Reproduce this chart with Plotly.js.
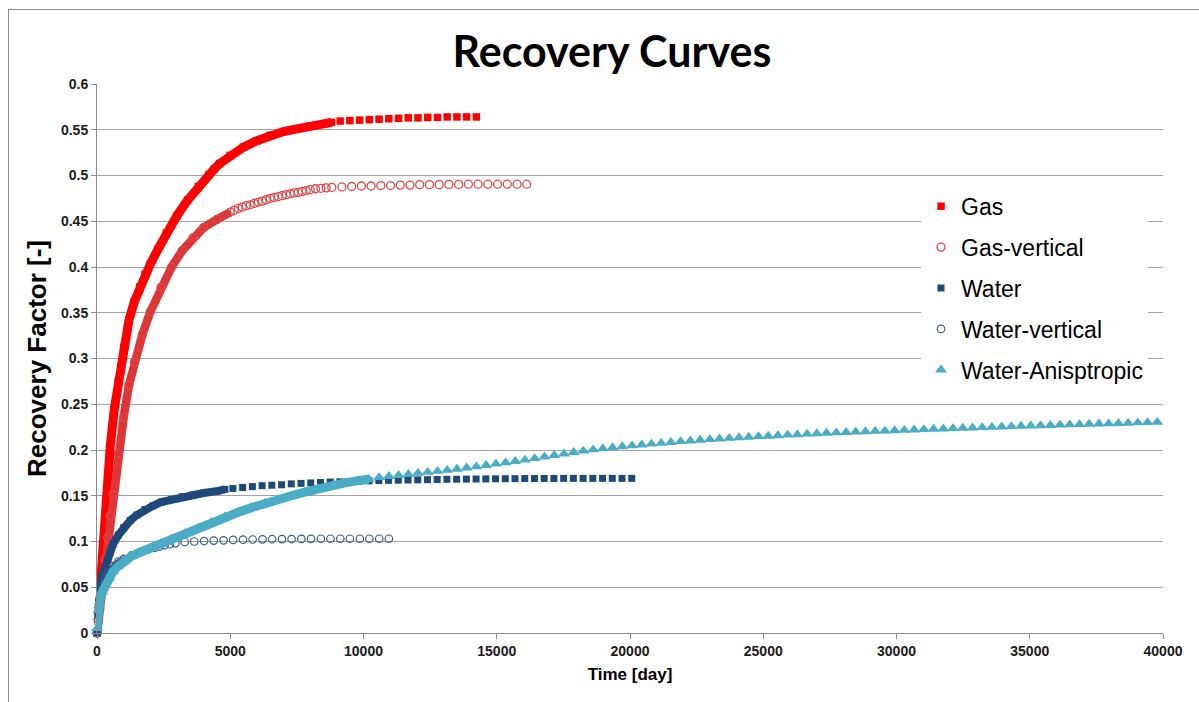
<!DOCTYPE html>
<html>
<head>
<meta charset="utf-8">
<script src="https://cdn.plot.ly/plotly-3.0.1.min.js"></script>
<style>
html,body{margin:0;padding:0;background:#fff;}
#wrap{position:relative;width:1199px;height:702px;overflow:hidden;}
#chart{width:1199px;height:702px;}
#frame{position:absolute;left:8px;top:9px;width:1400px;height:900px;border:1px solid #8c8c8c;pointer-events:none;}
</style>
</head>
<body>
<div id="wrap"><div id="chart"></div><div id="frame"></div></div>
<script>
// ---- Data ----
const gasDay = [0,50,100,200,300,400,500,650,800,1000,1200,1400,1600,1800,2000,2300,2600,3000,3400,3800,4200,4400,4600,5000,5500,6000,6500,7000,7500,8000,8500,8800,
  9125,9490,9855,10220,10585,10950,11315,11680,12045,12410,12775,13140,13505,13870,14235];
const gasRF = [0,0.022,0.04,0.085,0.13,0.17,0.205,0.245,0.275,0.312,0.342,0.362,0.378,0.392,0.403,0.42,0.437,0.456,0.473,0.488,0.501,0.507,0.513,0.522,0.531,0.538,0.544,0.548,0.551,0.554,0.556,0.558,
  0.5595,0.560,0.5605,0.561,0.5615,0.562,0.5625,0.563,0.563,0.5635,0.5635,0.564,0.564,0.564,0.564];

const gasVertDay = [0,50,100,200,300,400,500,600,800,1000,1200,1400,1700,2000,2400,2800,3200,3600,4000,4500,5000,
  5150,5300,5450,5600,5750,5900,6050,6200,6350,6500,6650,6800,6950,7100,7250,7400,7550,7700,7850,8000,8200,8400,8600,8810,
  9190,9555,9920,10285,10650,11015,11380,11745,12110,12475,12840,13205,13570,13935,14300,14665,15030,15395,15760,16125];
const gasVertRF = [0,0.012,0.026,0.053,0.08,0.104,0.128,0.152,0.196,0.236,0.271,0.296,0.326,0.351,0.378,0.400,0.418,0.432,0.443,0.452,0.460,
  0.462,0.464,0.4655,0.467,0.468,0.4695,0.471,0.472,0.4735,0.475,0.476,0.477,0.478,0.479,0.48,0.481,0.4815,0.4825,0.4835,0.4845,0.4855,0.486,0.4865,0.487,
  0.4875,0.488,0.4885,0.4885,0.489,0.489,0.4895,0.4895,0.49,0.49,0.49,0.4903,0.4903,0.4905,0.4905,0.4905,0.4905,0.4905,0.4905,0.4905];

const waterDay = [0,30,60,100,200,300,400,500,600,800,1000,1250,1500,1800,2100,2400,2800,3200,3600,4000,4500,4800,
  5100,5465,5830,6195,6560,6925,7290,7655,8020,8385,8750,9115,9480,9845,10210,10575,10940,11305,11670,12035,12400,12765,13130,13495,13860,14225,14590,14955,15320,15685,16050,16415,16780,17145,17510,17875,18240,18605,18970,19335,19700,20065];
const waterRF = [0,0.02,0.034,0.048,0.062,0.072,0.08,0.089,0.097,0.107,0.115,0.123,0.129,0.135,0.139,0.143,0.146,0.149,0.151,0.153,0.155,0.157,
  0.158,0.159,0.160,0.161,0.1615,0.162,0.163,0.1635,0.164,0.1645,0.165,0.1652,0.1656,0.166,0.1663,0.1666,0.1668,0.167,0.1672,0.1674,0.1676,0.1678,0.168,0.1681,0.1682,0.1683,0.1684,0.1685,0.1686,0.1687,0.1688,0.1688,0.1689,0.1689,0.169,0.169,0.169,0.169,0.169,0.169,0.169,0.169];

const waterVertDay = [0,30,60,100,200,300,400,600,800,1000,1300,1600,1900,
  2160,2350,2540,2730,2940,3290,3650,4020,4380,4750,5110,5480,5840,6210,6570,6940,7300,7670,8030,8400,8760,9130,9490,9860,10220,10590,10950];
const waterVertRF = [0,0.015,0.028,0.038,0.051,0.06,0.066,0.073,0.078,0.081,0.085,0.088,0.091,
  0.093,0.0945,0.096,0.097,0.098,0.0995,0.1,0.1005,0.101,0.1013,0.1017,0.102,0.1022,0.1024,0.1025,0.1026,0.1027,0.1028,0.1029,0.103,0.103,0.103,0.103,0.103,0.103,0.103,0.103];

const anisoDay = [0,50,100,200,300,450,600,800,1000,1300,1600,2000,2400,2800,3300,3800,4300,4800,5300,5800,6300,6800,7300,7800,8300,8800,9300,9800,10200,
  10585,10950,11315,11680,12045,12410,12775,13140,13505,13870,14235,14600,14965,15330,15695,16060,16425,16790,17155,17520,17885,18250,18615,18980,19345,19710,
  20075,20440,20805,21170,21535,21900,22265,22630,22995,23360,23725,24090,24455,24820,25185,25550,25915,26280,26645,27010,27375,27740,28105,28470,28835,
  29200,29565,29930,30295,30660,31025,31390,31755,32120,32485,32850,33215,33580,33945,34310,34675,35040,35405,35770,36135,36500,36865,37230,37595,37960,
  38325,38690,39055,39420,39785];
const anisoRF = [0.005,0.025,0.034,0.045,0.052,0.06,0.067,0.073,0.078,0.084,0.088,0.093,0.098,0.103,0.109,0.115,0.121,0.127,0.132,0.137,0.142,0.146,0.15,0.154,0.158,0.161,0.164,0.1665,0.168,
  0.1700,0.1712,0.1724,0.1735,0.1746,0.1758,0.1769,0.1780,0.1792,0.1805,0.1818,0.1833,0.1848,0.1862,0.1877,0.1892,0.1908,0.1925,0.1942,0.1958,0.1975,0.1990,0.2003,0.2015,0.2026,0.2037,
  0.2047,0.2057,0.2066,0.2075,0.2084,0.2093,0.2101,0.2108,0.2115,0.2122,0.2129,0.2136,0.2142,0.2148,0.2153,0.2158,0.2164,0.2169,0.2175,0.2180,0.2185,0.2189,0.2193,0.2197,0.2201,
  0.2205,0.2209,0.2213,0.2217,0.2221,0.2225,0.2229,0.2232,0.2236,0.2240,0.2243,0.2247,0.2250,0.2254,0.2257,0.2261,0.2264,0.2267,0.2270,0.2274,0.2277,0.2280,0.2283,0.2286,0.2289,
  0.2292,0.2295,0.2298,0.2301,0.2304];

const seriesNames = ['Gas','Gas-vertical','Water','Water-vertical','Water-Anisptropic'];
const xTicks = [0,5000,10000,15000,20000,25000,30000,35000,40000];
const yTicks = [0,0.05,0.1,0.15,0.2,0.25,0.3,0.35,0.4,0.45,0.5,0.55,0.6];

// ---- Styles ----
const styles = [
  {day: gasDay, rf: gasRF, color:'#ff0000', band:'#ff0000', bandEnd:8800, bandW:9, symbol:'square', size:7.5, lw:0},
  {day: gasVertDay, rf: gasVertRF, color:'#e04646', band:'#dc3636', bandEnd:5000, bandW:8.5, symbol:'circle-open', size:8, lw:1.3},
  {day: waterDay, rf: waterRF, color:'#1f497d', band:'#1f497d', bandEnd:4800, bandW:8, symbol:'square', size:7, lw:0},
  {day: waterVertDay, rf: waterVertRF, color:'#3d5a8a', band:'#2f4f80', bandEnd:1900, bandW:5, symbol:'circle-open', size:7.5, lw:1.2},
  {day: anisoDay, rf: anisoRF, color:'#4bacc6', band:'#4bacc6', bandEnd:10200, bandW:9, symbol:'triangle-up', size:10.5, lw:0}
];

const traces = [];
styles.forEach((s, i) => {
  const bx = [], by = [];
  s.day.forEach((d, k) => { if (d <= s.bandEnd) { bx.push(d); by.push(s.rf[k]); } });
  traces.push({
    x: bx, y: by, type:'scatter', mode:'lines',
    line:{color:s.band, width:s.bandW},
    showlegend:false, legendgroup:'g'+i, hoverinfo:'skip', cliponaxis:false
  });
  traces.push({
    x: s.day, y: s.rf, type:'scatter', mode:'markers', name: seriesNames[i],
    legendgroup:'g'+i, cliponaxis:false,
    marker:{symbol:s.symbol, size:s.size, color:s.color, line:{width:s.lw, color:s.color}}
  });
});

const tickFont = {family:'Arial, Liberation Sans, sans-serif', size:14, color:'#1a1a1a', weight:700};

const layout = {
  width:1199, height:702,
  paper_bgcolor:'#ffffff', plot_bgcolor:'#ffffff',
  margin:{l:97, r:36, t:84, b:69},
  title:{text:'Recovery Curves', font:{family:'Lato, Open Sans, sans-serif', size:43, color:'#000', weight:700},
    x:0.5104, xref:'container', xanchor:'center', y:0.926, yref:'container', yanchor:'middle'},
  showlegend:true,
  legend:{x:0.773, xanchor:'left', y:0.8165, yanchor:'top', bgcolor:'#ffffff', borderwidth:0,
    font:{family:'Arial, Liberation Sans, sans-serif', size:23, color:'#000'}, tracegroupgap:8, itemsizing:'trace'},
  xaxis:{range:[0,40000], tickvals:xTicks, ticktext:xTicks.map(String), showgrid:false, zeroline:false,
    showline:true, linecolor:'#8c8c8c', linewidth:1, ticks:'outside', ticklen:5, tickcolor:'#8c8c8c',
    tickfont:tickFont,
    title:{text:'Time [day]', font:{family:'Arial, Liberation Sans, sans-serif', size:17, color:'#000', weight:700}, standoff:10}},
  yaxis:{range:[0,0.6], tickvals:yTicks, ticktext:yTicks.map(String), showgrid:true, gridcolor:'#a3a3a3', gridwidth:1, zeroline:false,
    showline:true, linecolor:'#8c8c8c', linewidth:1, ticks:'outside', ticklen:5, tickcolor:'#8c8c8c',
    tickfont:tickFont,
    title:{text:'Recovery Factor [-]', font:{family:'Arial, Liberation Sans, sans-serif', size:26, color:'#000', weight:700}, standoff:6}},
  shapes:[{type:'rect', xref:'paper', yref:'paper', x0:0.3227, x1:0.6426, y0:0.99, y1:1.08, fillcolor:'#ffffff', line:{width:0}, layer:'above'}]
};

Plotly.newPlot('chart', traces, layout, {displayModeBar:false, staticPlot:true});
</script>
</body>
</html>
